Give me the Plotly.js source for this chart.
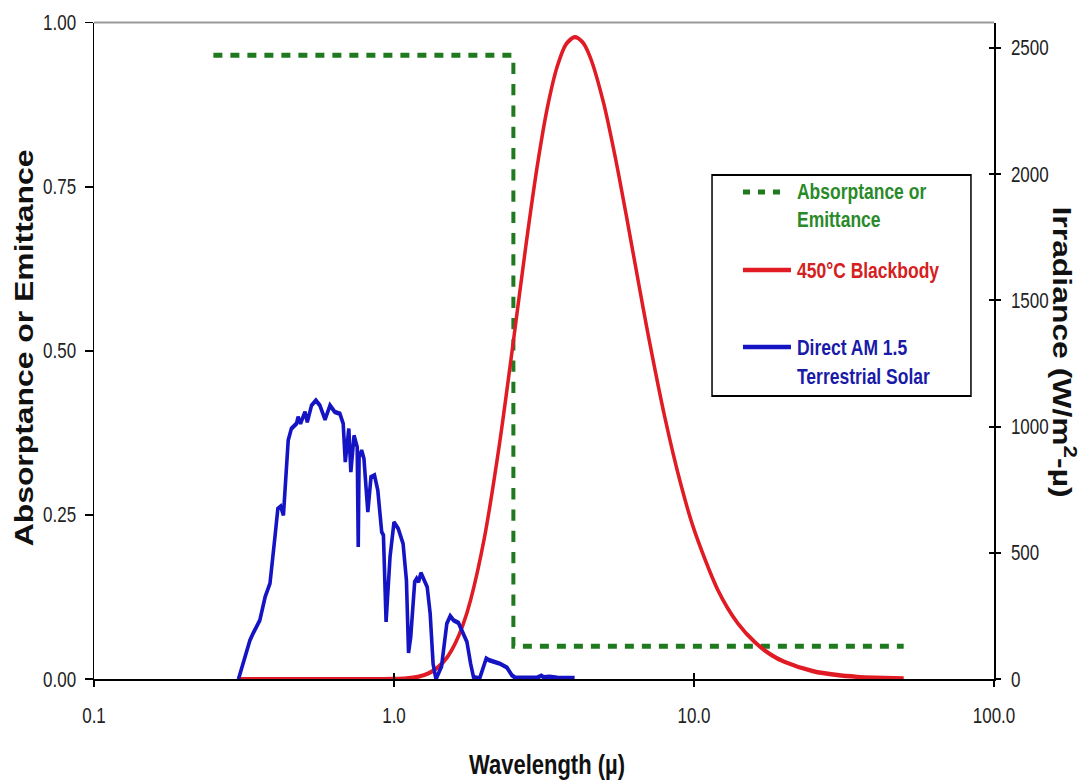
<!DOCTYPE html>
<html>
<head>
<meta charset="utf-8">
<script src="https://cdn.plot.ly/plotly-3.0.1.min.js"></script>
<style>
  html, body { margin: 0; padding: 0; background: #ffffff; }
  #page { width: 1088px; height: 783px; overflow: hidden; position: relative; }
  /* chart is laid out at 626px and stretched to the 783px page height */
  #chart { position: absolute; left: 0; top: 0; width: 1088px; height: 626px;
           transform: scaleY(1.2508); transform-origin: 0 0; }
</style>
</head>
<body>
<div id="page"><div id="chart"></div></div>
<script>
// Selective surface: absorptance / emittance step (left axis)
const stepWavelength = [0.25, 2.5, 2.5, 50];
const stepAbsorptance = [0.95, 0.95, 0.05, 0.05];

// 450 °C blackbody spectral emissive power, W/m²·µm (right axis)
const bbWavelength = [0.3, 0.5, 0.7, 0.9, 1.0, 1.1, 1.2, 1.3, 1.4, 1.5, 1.6, 1.7, 1.8, 2.0, 2.25, 2.5, 2.75,
  3.0, 3.25, 3.5, 3.75, 4.0, 4.25, 4.5, 5.0, 5.5, 6.0, 6.5, 7.0, 8.0, 9.0, 10, 12, 14, 16, 18, 20, 25, 30, 35, 40, 50];
const bbIrradiance = [0, 0, 0, 0.2, 0.9, 3.2, 9.5, 22.7, 46.7, 85, 142, 217, 313, 558, 936, 1338, 1714,
  2029, 2267, 2426, 2515, 2542, 2522, 2465, 2280, 2050, 1811, 1584, 1377, 1035, 780, 593, 354, 221, 145, 98, 69, 31.5, 16.4, 9.3, 6.0, 2.5];

// Direct AM 1.5 terrestrial solar spectrum, W/m²·µm (right axis)
const solarWavelength = [0.303, 0.331, 0.339, 0.357, 0.372, 0.386, 0.401, 0.410, 0.419, 0.428, 0.444, 0.455,
  0.473, 0.479, 0.488, 0.505, 0.514, 0.531, 0.549, 0.566, 0.589, 0.612, 0.635, 0.660, 0.677, 0.688, 0.707,
  0.718, 0.736, 0.754, 0.760, 0.765, 0.780, 0.794, 0.818, 0.838, 0.861, 0.883, 0.910, 0.922, 0.941, 0.970,
  1.000, 1.033, 1.072, 1.100, 1.118, 1.137, 1.172, 1.190, 1.207, 1.230, 1.290, 1.320, 1.350, 1.380, 1.440,
  1.500, 1.540, 1.580, 1.640, 1.700, 1.750, 1.800, 1.840, 1.930, 1.990, 2.030, 2.080, 2.170, 2.250, 2.380,
  2.470, 2.530, 2.700, 3.000, 3.100, 3.150, 3.300, 3.500, 4.000];
const solarIrradiance = [0, 154, 181, 233, 326, 379, 563, 675, 684, 649, 946, 992,
  1012, 1038, 1012, 1058, 1018, 1084, 1104, 1084, 1028, 1084, 1058, 1051, 1012, 860, 992,
  820, 965, 919, 523, 880, 906, 873, 662, 800, 807, 748, 583, 570, 227, 484,
  622, 596, 537, 392, 104, 167, 385, 398, 385, 421, 365, 260, 60, 0, 50,
  220, 250, 233, 223, 181, 148, 62, 9, 3, 49, 82, 75, 69, 62, 46,
  16, 7, 7, 6, 14, 8, 10, 6, 5];

// Axis ticks
const xTickVals = [0.1, 1, 10, 100];
const xTickText = ['0.1', '1.0', '10.0', '100.0'];
const leftTickVals = [0, 0.25, 0.5, 0.75, 1];
const rightTickVals = [0, 500, 1000, 1500, 2000, 2500];

// Legend entries
const legendLabels = ['Absorptance or<br>Emittance', '450°C Blackbody', 'Direct AM 1.5<br>Terrestrial Solar'];

const GREEN = '#1f7a1f', RED = '#e01b24', BLUE = '#1414c4';
const FONT = 'Liberation Sans, Arial, sans-serif';
const tickFont = { family: FONT, size: 17, color: '#222222' };

// x2 and y3 duplicate the scales of x and y2; they carry the inner halves of the crossing tick marks
const traces = [
  { x: stepWavelength, y: stepAbsorptance, xaxis: 'x', yaxis: 'y', mode: 'lines',
    line: { color: GREEN, width: 4, dash: '9px,8px' }, showlegend: false, hoverinfo: 'skip' },
  { x: bbWavelength, y: bbIrradiance, xaxis: 'x', yaxis: 'y2', mode: 'lines',
    line: { color: RED, width: 3.5, shape: 'spline', smoothing: 0.8 }, showlegend: false, hoverinfo: 'skip' },
  { x: solarWavelength, y: solarIrradiance, xaxis: 'x2', yaxis: 'y3', mode: 'lines',
    line: { color: BLUE, width: 3.6 }, showlegend: false, hoverinfo: 'skip' }
];

const xRange = [-1, 2];
const rightRange = [0, 2600];

const layout = {
  width: 1088, height: 626,
  margin: { l: 94, r: 94, t: 18, b: 83, pad: 0 },
  paper_bgcolor: '#ffffff', plot_bgcolor: '#ffffff',
  showlegend: false,
  xaxis: {
    type: 'log', range: xRange, tickvals: xTickVals, ticktext: xTickText,
    ticks: 'outside', ticklen: 5, tickwidth: 1.5, tickcolor: '#000',
    showline: true, linecolor: '#000', linewidth: 1.5,
    showgrid: false, zeroline: false, tickfont: tickFont, ticklabelstandoff: 8
  },
  xaxis2: {
    type: 'log', range: xRange, tickvals: xTickVals, overlaying: 'x', anchor: 'y', side: 'bottom',
    ticks: 'inside', ticklen: 5, tickwidth: 1.5, tickcolor: '#000',
    showline: false, showgrid: false, zeroline: false, showticklabels: false
  },
  yaxis: {
    range: [0, 1], tickvals: leftTickVals, tickformat: '.2f',
    ticks: 'outside', ticklen: 8, tickwidth: 1.5, tickcolor: '#000',
    showline: true, linecolor: '#000', linewidth: 1.5,
    showgrid: false, zeroline: false, tickfont: tickFont, ticklabelstandoff: 5
  },
  yaxis2: {
    range: rightRange, tickvals: rightTickVals, overlaying: 'y', side: 'right', anchor: 'x',
    ticks: 'outside', ticklen: 5, tickwidth: 1.5, tickcolor: '#000',
    showline: true, linecolor: '#000', linewidth: 1.5,
    showgrid: false, zeroline: false, tickfont: tickFont, ticklabelstandoff: 7
  },
  yaxis3: {
    range: rightRange, tickvals: rightTickVals, overlaying: 'y', side: 'right', anchor: 'x',
    ticks: 'inside', ticklen: 5, tickwidth: 1.5, tickcolor: '#000',
    showline: false, showgrid: false, zeroline: false, showticklabels: false
  },
  shapes: [
    // top frame line
    { type: 'line', xref: 'paper', yref: 'paper', x0: 0, x1: 1, y0: 1, y1: 1,
      line: { color: '#9a9a9a', width: 1.5 } },
    // legend box
    { type: 'rect', xref: 'paper', yref: 'paper', x0: 0.6867, x1: 0.9744, y0: 0.4312, y1: 0.7678,
      line: { color: '#000', width: 1.5 }, fillcolor: '#ffffff', layer: 'above' },
    { type: 'line', xref: 'paper', yref: 'paper', x0: 0.7211, x1: 0.765, y0: 0.7419, y1: 0.7419,
      line: { color: GREEN, width: 4, dash: '7px,8px' }, layer: 'above' },
    { type: 'line', xref: 'paper', yref: 'paper', x0: 0.7211, x1: 0.7744, y0: 0.6231, y1: 0.6231,
      line: { color: RED, width: 3.5 }, layer: 'above' },
    { type: 'line', xref: 'paper', yref: 'paper', x0: 0.7211, x1: 0.7744, y0: 0.5059, y1: 0.5059,
      line: { color: BLUE, width: 3.5 }, layer: 'above' }
  ],
  annotations: [
    { text: '<b>Wavelength (µ)</b>', xref: 'paper', yref: 'paper', x: 0.503, y: -0.13,
      xanchor: 'center', yanchor: 'middle', showarrow: false,
      font: { family: FONT, size: 22, color: '#111' } },
    { text: '<b>Absorptance or Emittance</b>', xref: 'paper', yref: 'paper', x: -0.0778, y: 0.505,
      xanchor: 'center', yanchor: 'middle', textangle: -90, showarrow: false,
      font: { family: FONT, size: 25.5, color: '#111' } },
    { text: '<b>Irradiance (W/m<sup>2</sup>-µ)</b>', xref: 'paper', yref: 'paper', x: 1.0778, y: 0.499,
      xanchor: 'center', yanchor: 'middle', textangle: 90, showarrow: false,
      font: { family: FONT, size: 25.5, color: '#111' } },
    { text: '<b>' + legendLabels[0] + '</b>', xref: 'paper', yref: 'paper', x: 0.7789, y: 0.7206,
      xanchor: 'left', yanchor: 'middle', align: 'left', showarrow: false,
      font: { family: FONT, size: 17.5, color: '#2a8a2a' } },
    { text: '<b>' + legendLabels[1] + '</b>', xref: 'paper', yref: 'paper', x: 0.7789, y: 0.6231,
      xanchor: 'left', yanchor: 'middle', align: 'left', showarrow: false,
      font: { family: FONT, size: 17.5, color: '#d42020' } },
    { text: '<b>' + legendLabels[2] + '</b>', xref: 'paper', yref: 'paper', x: 0.7789, y: 0.483,
      xanchor: 'left', yanchor: 'middle', align: 'left', showarrow: false,
      font: { family: FONT, size: 17.5, color: '#1a1aa8' } }
  ]
};

Plotly.newPlot('chart', traces, layout, { staticPlot: true, displayModeBar: false });
</script>
</body>
</html>
